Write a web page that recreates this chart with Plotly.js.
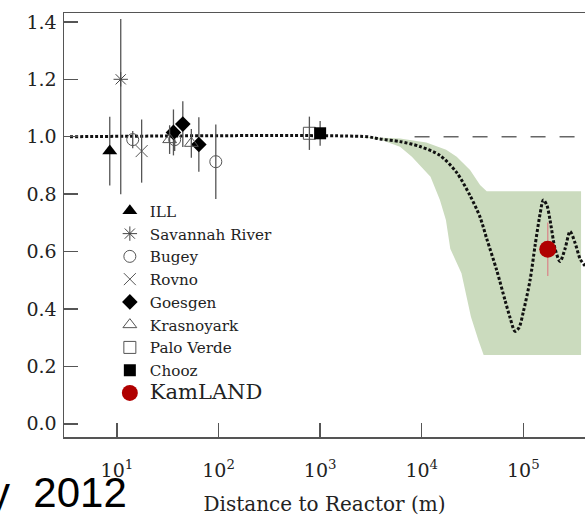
<!DOCTYPE html>
<html>
<head>
<meta charset="utf-8">
<script src="https://cdn.plot.ly/plotly-3.0.1.min.js"></script>
<style>
  html, body { margin: 0; padding: 0; background: #fff; }
  #chart { width: 585px; height: 520px; }
</style>
</head>
<body>
<div id="chart"></div>
<script>
// Reactor antineutrino experiments: ratio of observed to expected flux vs. baseline

// ---- data points (distance in metres, ratio, error) ----
const illL = [8.5];            const illV = [0.95];            const illErr = [0.12];
const savL = [10.9];           const savV = [1.2];             const savErrPlus = [0.21]; const savErrMinus = [0.40];
const bugeyL = [14.3, 37, 94]; const bugeyV = [0.99, 0.99, 0.913]; const bugeyErr = [0.03, 0.04, 0.13];
const rovnoL = [17.5];         const rovnoV = [0.95];          const rovnoErr = [0.11];
const goesL = [36, 44.5, 64];  const goesV = [1.015, 1.044, 0.973]; const goesErr = [0.08, 0.08, 0.095];
const krasL = [33, 54];        const krasV = [0.99, 0.977];    const krasErr = [0.05, 0.05];
const pvL = [784];             const pvV = [1.012];            const pvErr = [0.058];
const choozL = [1000];         const choozV = [1.012];         const choozErr = [0.043];
const kamL = [174000];         const kamV = [0.608];           const kamErr = [0.093];

// ---- oscillation expectation (dotted curve) ----
const curveL = [3.45, 2880, 3890, 6110, 9620, 15100, 22100, 29900, 37500, 43600, 54700,
                66100, 74000, 82800, 90700, 100000, 116400, 130400, 146000, 157400, 171000,
                183200, 205200, 229800, 257500, 288500, 323100, 361800, 404900];
const curveV = [1.0, 1.0, 0.992, 0.983, 0.966, 0.935, 0.875, 0.795, 0.72, 0.645, 0.535,
                0.43, 0.37, 0.322, 0.335, 0.39, 0.50, 0.62, 0.73, 0.78, 0.76,
                0.71, 0.61, 0.565, 0.61, 0.67, 0.63, 0.575, 0.55];

// ---- allowed band ----
const bandUpperL = [2400, 3890, 6110, 11100, 17400, 22100, 29900, 37500, 43600, 370000];
const bandUpperV = [1.0, 0.998, 0.994, 0.98, 0.955, 0.93, 0.884, 0.832, 0.81, 0.81];
const bandLowerL = [370000, 40700, 36200, 30500, 24600, 19100, 17300, 15100, 12200, 8000, 6110, 3890, 2400];
const bandLowerV = [0.24, 0.24, 0.29, 0.373, 0.524, 0.61, 0.71, 0.78, 0.861, 0.93, 0.965, 0.99, 1.0];

// ---- no-oscillation reference ----
const flatL = [8500, 420000];
const flatV = [1.0, 1.0];

// ---- axis ticks ----
const yTicks = [0, 0.2, 0.4, 0.6, 0.8, 1.0, 1.2, 1.4];
const xTicks = [10, 100, 1000, 10000, 100000];
const xTickText = ['10<sup>1</sup>', '10<sup>2</sup>', '10<sup>3</sup>', '10<sup>4</sup>', '10<sup>5</sup>'];

const SERIF = 'DejaVu Serif, Liberation Serif, serif';
const GRAY = '#555';

function errBar(arr, color) {
  return { type: 'data', array: arr, visible: true, color: color || GRAY, thickness: 1.3, width: 0 };
}

const traces = [
  { x: bandUpperL.concat(bandLowerL), y: bandUpperV.concat(bandLowerV),
    mode: 'lines', fill: 'toself', fillcolor: 'rgb(203,219,190)',
    line: { width: 0, color: 'rgba(0,0,0,0)' }, showlegend: false, hoverinfo: 'skip' },
  { x: flatL, y: flatV, mode: 'lines', line: { color: '#666', width: 1.5, dash: '15px,14px' },
    showlegend: false, hoverinfo: 'skip' },
  { x: curveL, y: curveV, mode: 'lines',
    line: { color: '#111', width: 3, dash: '3px,2px', shape: 'spline', smoothing: 0.8 },
    showlegend: false, hoverinfo: 'skip' },

  { name: 'ILL', x: illL, y: illV, mode: 'markers', error_y: errBar(illErr),
    marker: { symbol: 'triangle-up', size: 13, color: '#000' } },
  { name: 'Savannah River', x: savL, y: savV, mode: 'markers',
    error_y: { type: 'data', symmetric: false, array: savErrPlus, arrayminus: savErrMinus,
               color: GRAY, thickness: 1.3, width: 0 },
    marker: { symbol: 'asterisk-open', size: 12, color: '#444', line: { color: '#444', width: 1 } } },
  { name: 'Bugey', x: bugeyL, y: bugeyV, mode: 'markers', error_y: errBar(bugeyErr),
    marker: { symbol: 'circle-open', size: 12, color: '#555', line: { color: '#555', width: 1 } } },
  { name: 'Rovno', x: rovnoL, y: rovnoV, mode: 'markers', error_y: errBar(rovnoErr),
    marker: { symbol: 'x-thin-open', size: 12, color: '#555', line: { color: '#555', width: 1 } } },
  { name: 'Goesgen', x: goesL, y: goesV, mode: 'markers', error_y: errBar(goesErr),
    marker: { symbol: 'diamond', size: 12, color: '#000' } },
  { name: 'Krasnoyark', x: krasL, y: krasV, mode: 'markers', error_y: errBar(krasErr),
    marker: { symbol: 'triangle-up-open', size: 12, color: '#555', line: { color: '#555', width: 1 } } },
  { name: 'Palo Verde', x: pvL, y: pvV, mode: 'markers', error_y: errBar(pvErr),
    marker: { symbol: 'square-open', size: 12, color: '#555', line: { color: '#555', width: 1 } } },
  { name: 'Chooz', x: choozL, y: choozV, mode: 'markers', error_y: errBar(choozErr),
    marker: { symbol: 'square', size: 12, color: '#000' } },
  { name: '<span style="font-size:21px">KamLAND</span>', x: kamL, y: kamV, mode: 'markers',
    error_y: errBar(kamErr, '#d9898b'),
    marker: { symbol: 'circle', size: 17, color: '#b00000' } }
];

const layout = {
  width: 585, height: 520,
  margin: { l: 64, r: 0, t: 13, b: 83 },
  paper_bgcolor: '#fff', plot_bgcolor: '#fff',
  font: { family: SERIF, color: '#222' },
  showlegend: true,
  legend: {
    x: 0.088, xanchor: 'left', y: 0.572, yanchor: 'top',
    bgcolor: 'rgba(0,0,0,0)', borderwidth: 0,
    font: { family: SERIF, size: 15.2, color: '#222' },
    tracegroupgap: 0
  },
  xaxis: {
    type: 'log', range: [0.479, 5.607],
    tickvals: xTicks, ticktext: xTickText,
    ticks: 'inside', ticklen: 14, tickwidth: 1.5, tickcolor: GRAY,
    showline: true, linecolor: GRAY, linewidth: 1.5, mirror: true,
    showgrid: false, zeroline: false,
    tickfont: { family: SERIF, size: 19, color: '#222' },
    ticklabelstandoff: 16,
    title: { text: 'Distance to Reactor (m)', font: { family: SERIF, size: 20, color: '#222' }, standoff: 16 }
  },
  yaxis: {
    range: [-0.046, 1.431],
    tickvals: yTicks, tickformat: '.1f',
    ticks: 'inside', ticklen: 14, tickwidth: 1.5, tickcolor: GRAY,
    showline: true, linecolor: GRAY, linewidth: 1.5, mirror: false,
    showgrid: false, zeroline: false,
    tickfont: { family: SERIF, size: 19, color: '#222' },
    ticklabelstandoff: 2
  },
  annotations: [{
    xref: 'paper', yref: 'paper', x: 0.1255, y: -0.13, xanchor: 'right', yanchor: 'middle',
    text: 'y\u00a0\u00a02012', showarrow: false,
    font: { family: 'Liberation Sans, Arial, sans-serif', size: 42, color: '#000' }
  }]
};

Plotly.newPlot('chart', traces, layout, { displayModeBar: false, staticPlot: true });
</script>
</body>
</html>
